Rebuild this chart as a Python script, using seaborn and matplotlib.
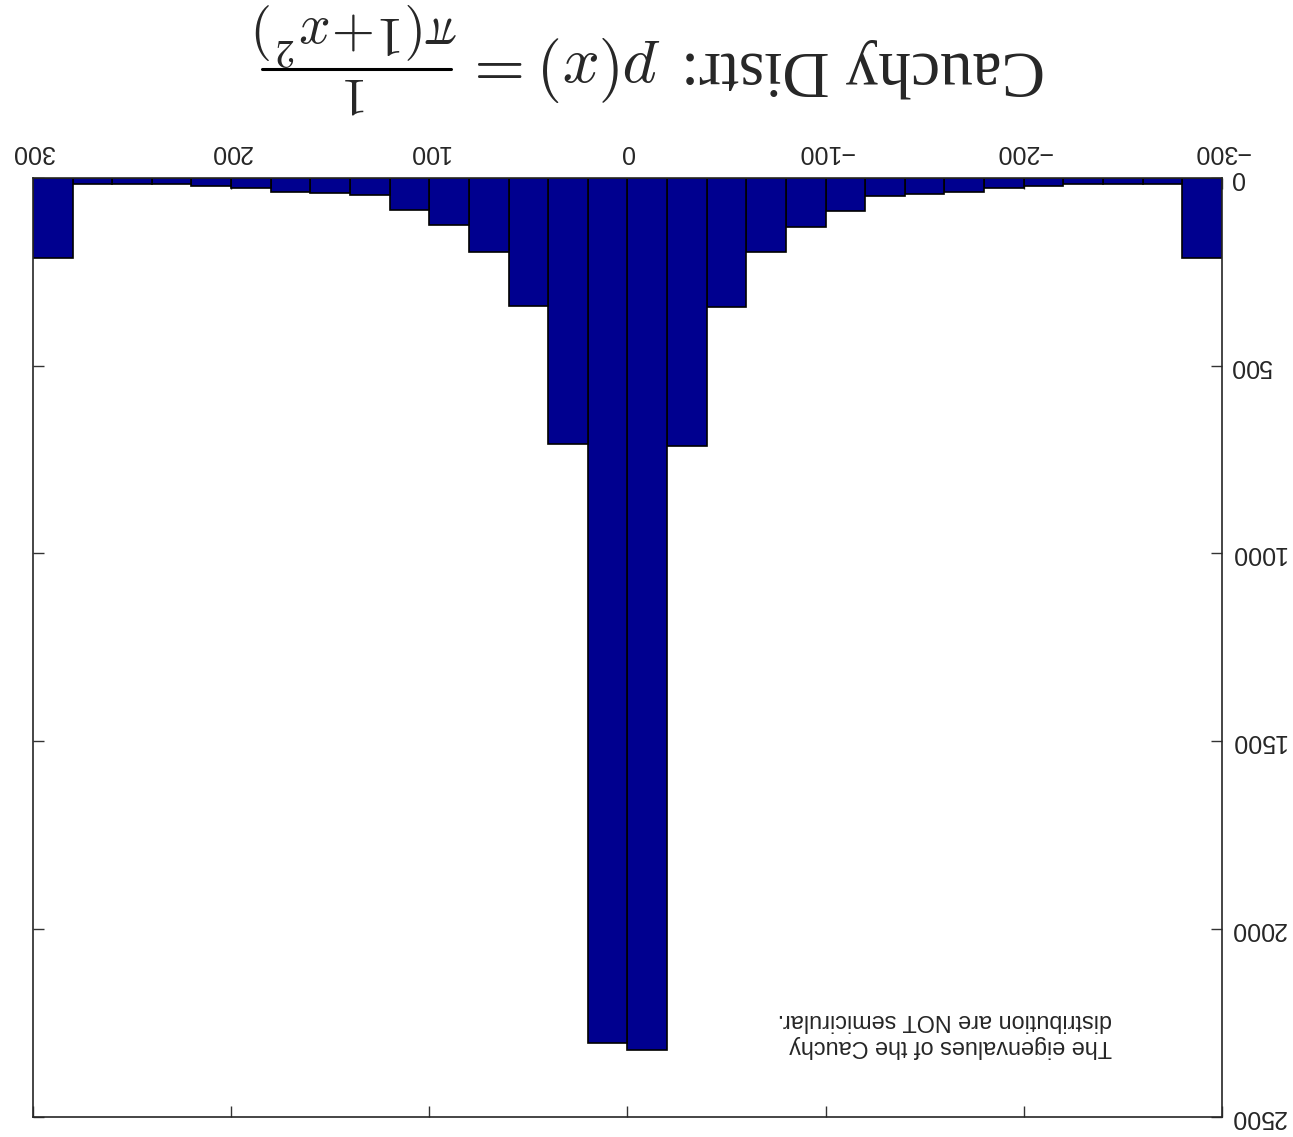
import numpy as np
import pandas as pd
import matplotlib
matplotlib.use("Agg")
import matplotlib.pyplot as plt
from matplotlib.lines import Line2D
import seaborn as sns

# histogram of the eigenvalues (bins of width 20, outliers piled into the edge bins)
bin_edges = list(range(-300, 301, 20))
counts = [214, 16, 16, 16, 22, 27, 38, 42, 49, 88,
          131, 197, 343, 714, 2322, 2304, 708, 341, 196, 124,
          86, 44, 41, 36, 26, 22, 15, 15, 16, 214]
x_ticks = [-300, -200, -100, 0, 100, 200, 300]
y_ticks = [0, 500, 1000, 1500, 2000, 2500]
note = "The eigenvalues of the Cauchy\ndistribution are NOT semicirular."
title_words = "Cauchy Distr:"
title_lhs = r"$p(x)=$"
title_num = r"$1$"
title_den = r"$\pi(1\!+\!x^2)$"

sns.set_style("white")
plt.rcParams['font.family'] = ['Liberation Sans', 'DejaVu Sans']
plt.rcParams['mathtext.fontset'] = 'cm'

df = pd.DataFrame({'center': (np.array(bin_edges[:-1]) + np.array(bin_edges[1:])) / 2,
                   'count': counts})

W, H = 1293, 1137
fig = plt.figure(figsize=(W / 100, H / 100), dpi=100)
ax = fig.add_axes([0.0255, 0.018, 0.9195, 0.8254])

sns.histplot(data=df, x='center', weights='count', bins=bin_edges, ax=ax,
             color='#00008F', alpha=1, edgecolor='black', linewidth=1.2)

# the whole picture is shown turned upside down
ax.set_xlim(300, -300)
ax.set_ylim(2500, 0)
ax.set_xticks(x_ticks)
ax.set_yticks(y_ticks)
ax.set_xlabel('')
ax.set_ylabel('')
ax.tick_params(direction='in', length=8, width=1, color='0.2',
               top=True, bottom=True, left=True, right=True,
               labeltop=True, labelbottom=False, labelright=True, labelleft=False,
               labelsize=18, labelrotation=180)
ax.tick_params(axis='x', pad=10)
ax.tick_params(axis='y', pad=6)
for lab in ax.get_yticklabels():
    lab.set_va('center')
for sp in ax.spines.values():
    sp.set_visible(True)
    sp.set_linewidth(1.2)
    sp.set_color('0.15')

ax.text(-244.5, 2345, note, rotation=180, ha='right', va='bottom',
        multialignment='left', fontsize=16.8, linespacing=1.2)


# title, upside down, built from pieces (pixel positions from the top-left)
def fig_text(px, py, s, **kw):
    return fig.text(px / W, 1 - py / H, s, rotation=180, rotation_mode='anchor',
                    va='baseline', **kw)


fig_text(1045, 52, title_words, ha='left', fontsize=47,
         family=['Liberation Serif', 'DejaVu Serif'])
fig_text(660, 52, title_lhs, ha='left', fontsize=47)
fig_text(356.5, 78, title_num, ha='center', fontsize=39)
fig_text(356.5, 16, title_den, ha='center', fontsize=40)
fig.add_artist(Line2D([262 / W, 451 / W], [1 - 69 / H, 1 - 69 / H],
                      transform=fig.transFigure, color='black', linewidth=2.2))

fig.savefig('out.png', dpi=100)
